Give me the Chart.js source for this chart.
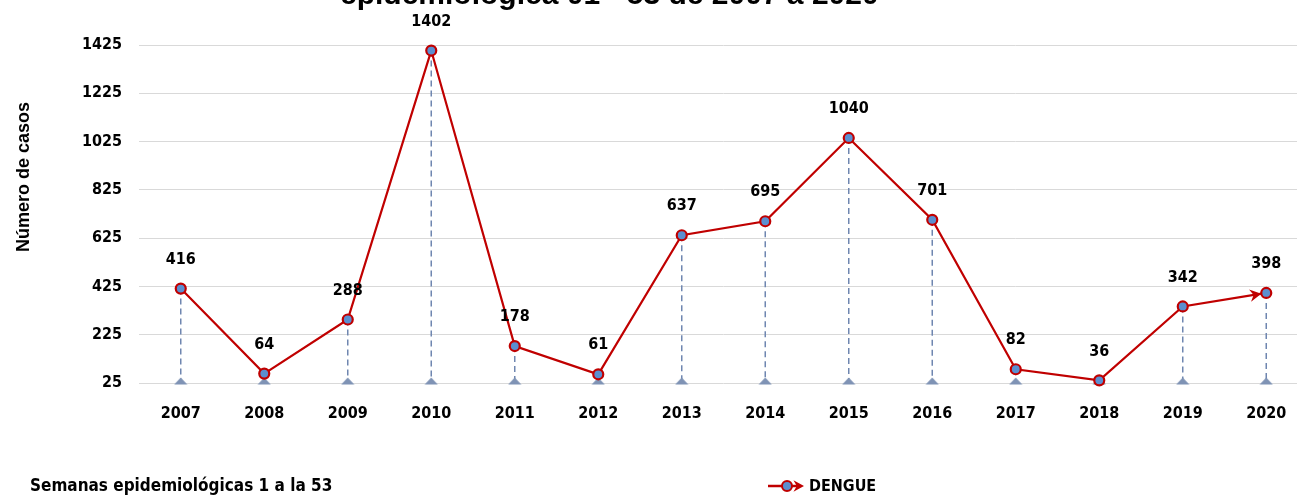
<!DOCTYPE html>
<html>
<head>
<meta charset="utf-8">
<script src="https://cdn.jsdelivr.net/npm/chart.js@4"></script>
<style>
  html, body { margin: 0; padding: 0; background: #fff; overflow: hidden; }
  #wrap { width: 1316px; height: 495px; }
</style>
</head>
<body>
<div id="wrap"><canvas id="myChart" width="1316" height="495"></canvas></div>
<script>
// datos
const years = ['2007', '2008', '2009', '2010', '2011', '2012', '2013', '2014', '2015', '2016', '2017', '2018', '2019', '2020'];
const dengue = [416, 64, 288, 1402, 178, 61, 637, 695, 1040, 701, 82, 36, 342, 398];
const yTicks = [25, 225, 425, 625, 825, 1025, 1225, 1425];
const baseValue = 25;

const titleText = 'epidemiológica 01 - 53 de 2007 a 2020';
const yTitle = 'Número de casos';
const footText = 'Semanas epidemiológicas 1 a la 53';
const seriesName = 'DENGUE';

const narrow = '"Liberation Sans Narrow", "DejaVu Sans Condensed", sans-serif';
const red = '#c00000';
const blue = '#5b8fd0';
const slate = '#7f93b5';

// marcador triangular plano
const tri = document.createElement('canvas');
tri.width = 14;
tri.height = 16;
(function () {
  const c = tri.getContext('2d');
  c.fillStyle = slate;
  c.beginPath();
  c.moveTo(7, 2.5);
  c.lineTo(13.5, 9.5);
  c.lineTo(0.5, 9.5);
  c.closePath();
  c.fill();
})();

function arrowHead(ctx, tipX, tipY, fromX, fromY, size) {
  const a = Math.atan2(tipY - fromY, tipX - fromX);
  ctx.save();
  ctx.fillStyle = red;
  ctx.beginPath();
  ctx.moveTo(tipX, tipY);
  ctx.lineTo(tipX - size * Math.cos(a - 0.5), tipY - size * Math.sin(a - 0.5));
  ctx.lineTo(tipX - size * 0.6 * Math.cos(a), tipY - size * 0.6 * Math.sin(a));
  ctx.lineTo(tipX - size * Math.cos(a + 0.5), tipY - size * Math.sin(a + 0.5));
  ctx.closePath();
  ctx.fill();
  ctx.restore();
}

// lineas punteadas hasta la base
const dropLines = {
  id: 'dropLines',
  beforeDatasetsDraw(chart) {
    const ctx = chart.ctx;
    const x = chart.scales.x, y = chart.scales.y;
    ctx.save();
    ctx.strokeStyle = '#6f86b0';
    ctx.lineWidth = 1.5;
    ctx.setLineDash([6, 4]);
    dengue.forEach((v, i) => {
      const px = x.getPixelForValue(i);
      ctx.beginPath();
      ctx.moveTo(px, y.getPixelForValue(v));
      ctx.lineTo(px, y.getPixelForValue(baseValue) - 4);
      ctx.stroke();
    });
    ctx.restore();
  }
};

const extras = {
  id: 'extras',
  afterDatasetsDraw(chart) {
    const ctx = chart.ctx;
    const meta = chart.getDatasetMeta(1);
    ctx.save();
    // etiquetas de datos
    ctx.fillStyle = '#000';
    ctx.font = 'bold 16px ' + narrow;
    ctx.textAlign = 'center';
    ctx.textBaseline = 'middle';
    meta.data.forEach((pt, i) => {
      ctx.fillText(String(dengue[i]), pt.x, pt.y - 29);
    });
    // flecha al final
    const n = meta.data.length;
    const last = meta.data[n - 1], prev = meta.data[n - 2];
    const a = Math.atan2(last.y - prev.y, last.x - prev.x);
    arrowHead(ctx, last.x - 5 * Math.cos(a), last.y - 5 * Math.sin(a), prev.x, prev.y, 13);
    ctx.restore();
  },
  afterDraw(chart) {
    const ctx = chart.ctx;
    ctx.save();
    // titulo (cortado arriba)
    ctx.fillStyle = '#000';
    ctx.font = 'bold 30px "Liberation Sans", Arial, sans-serif';
    ctx.textAlign = 'left';
    ctx.textBaseline = 'alphabetic';
    ctx.fillText(titleText, 340, 4);
    // titulo eje y
    ctx.save();
    ctx.translate(24, 177);
    ctx.rotate(-Math.PI / 2);
    ctx.font = 'bold 18px "Liberation Sans", Arial, sans-serif';
    ctx.textAlign = 'center';
    ctx.textBaseline = 'middle';
    ctx.fillText(yTitle, 0, 0);
    ctx.restore();
    // texto inferior
    ctx.font = 'bold 17px ' + narrow;
    ctx.textAlign = 'left';
    ctx.textBaseline = 'middle';
    ctx.fillText(footText, 30, 487);
    // leyenda
    const ly = 486;
    ctx.strokeStyle = red;
    ctx.lineWidth = 2.5;
    ctx.beginPath();
    ctx.moveTo(768, ly);
    ctx.lineTo(798, ly);
    ctx.stroke();
    arrowHead(ctx, 804, ly, 768, ly, 12);
    ctx.beginPath();
    ctx.arc(787, ly, 5, 0, Math.PI * 2);
    ctx.fillStyle = blue;
    ctx.fill();
    ctx.lineWidth = 2;
    ctx.stroke();
    ctx.fillStyle = '#000';
    ctx.font = 'bold 16px ' + narrow;
    ctx.fillText(seriesName, 809, 487);
    ctx.restore();
  }
};

const ctx = document.getElementById('myChart').getContext('2d');
const myLineChart = new Chart(ctx, {
  type: 'line',
  data: {
    labels: years,
    datasets: [{
      label: 'base',
      data: years.map(() => baseValue),
      showLine: false,
      pointStyle: tri,
      pointRadius: 7,
      clip: false,
      order: 2
    }, {
      label: seriesName,
      data: dengue,
      borderColor: red,
      borderWidth: 2.2,
      backgroundColor: blue,
      pointRadius: 5,
      pointBackgroundColor: blue,
      pointBorderColor: red,
      pointBorderWidth: 2.2,
      tension: 0,
      clip: false,
      order: 1
    }]
  },
  plugins: [dropLines, extras],
  options: {
    responsive: false,
    animation: false,
    layout: { padding: { top: 45, right: 1, bottom: 72, left: 0 } },
    plugins: {
      legend: { display: false },
      tooltip: { enabled: false }
    },
    scales: {
      x: {
        offset: true,
        grid: { display: false, drawTicks: false },
        border: { display: false },
        ticks: { color: '#000', font: { family: narrow, size: 16, weight: 'bold' }, padding: 21, maxRotation: 0 },
        afterFit(scale) { scale.height = 40; }
      },
      y: {
        min: 25,
        max: 1425,
        grid: { color: '#d9d9d9', lineWidth: 1, drawTicks: false },
        border: { display: false },
        ticks: {
          color: '#000',
          font: { family: narrow, size: 16, weight: 'bold' },
          padding: 17,
          callback: (v) => String(v)
        },
        afterBuildTicks(scale) { scale.ticks = yTicks.map(v => ({ value: v })); },
        afterFit(scale) { scale.width = 139; }
      }
    }
  }
});
</script>
</body>
</html>
